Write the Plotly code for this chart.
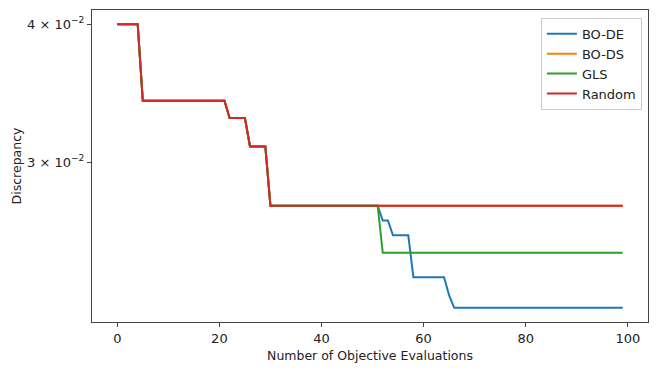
import plotly.graph_objects as go

evals = list(range(100))

# shared start (all methods identical up to evaluation 51)
common = [0.0400] * 5 + [0.0341] * 17 + [0.0329] * 4 + [0.0310] * 4 + [0.0274] * 22

bo_de = common + [0.02657] * 2 + [0.02576] * 4 + [0.02360] * 7 + [0.02273] * 1 + [0.02215] * 34
bo_ds = common + [0.0274] * 48
gls = common + [0.02484] * 48
random_ = common + [0.0274] * 48

series = [("BO-DE", bo_de, "#1f77b4"),
          ("BO-DS", bo_ds, "#ff7f0e"),
          ("GLS", gls, "#2ca02c"),
          ("Random", random_, "#d62728")]

fig = go.Figure()
for name, vals, col in series:
    fig.add_trace(go.Scatter(x=evals, y=vals, name=name, mode="lines",
                             line=dict(color=col, width=2)))

axis_style = dict(showline=True, linecolor="#444", linewidth=1, mirror=True,
                  showgrid=False, zeroline=False, ticks="outside", ticklen=4,
                  tickcolor="#444", tickfont=dict(size=13, color="#222"),
                  automargin=True)

fig.update_xaxes(range=[-4.95, 103.95], tickvals=[0, 20, 40, 60, 80, 100],
                 title=dict(text="Number of Objective Evaluations", standoff=6,
                            font=dict(size=12.5, color="#222")),
                 **axis_style)
fig.update_yaxes(type="log", range=[-1.6675, -1.3851], tickvals=[0.03, 0.04],
                 ticktext=["3 × 10<sup>−2</sup>", "4 × 10<sup>−2</sup>"],
                 title=dict(text="Discrepancy", standoff=2,
                            font=dict(size=12.5, color="#222")),
                 **axis_style)

fig.update_layout(width=658, height=372,
                  margin=dict(l=92, r=10, t=10, b=50),
                  paper_bgcolor="white", plot_bgcolor="white",
                  font=dict(family="DejaVu Sans", size=12.5, color="#222"),
                  legend=dict(x=0.989, y=0.975, xanchor="right", yanchor="top",
                              bordercolor="#ccc", borderwidth=1,
                              bgcolor="rgba(255,255,255,0.8)",
                              font=dict(size=13)))

# drop the browser's default page margin so the figure sits at the corner
fig.write_html("out.html", config={"displayModeBar": False},
               post_script="document.body.style.margin='0';")
